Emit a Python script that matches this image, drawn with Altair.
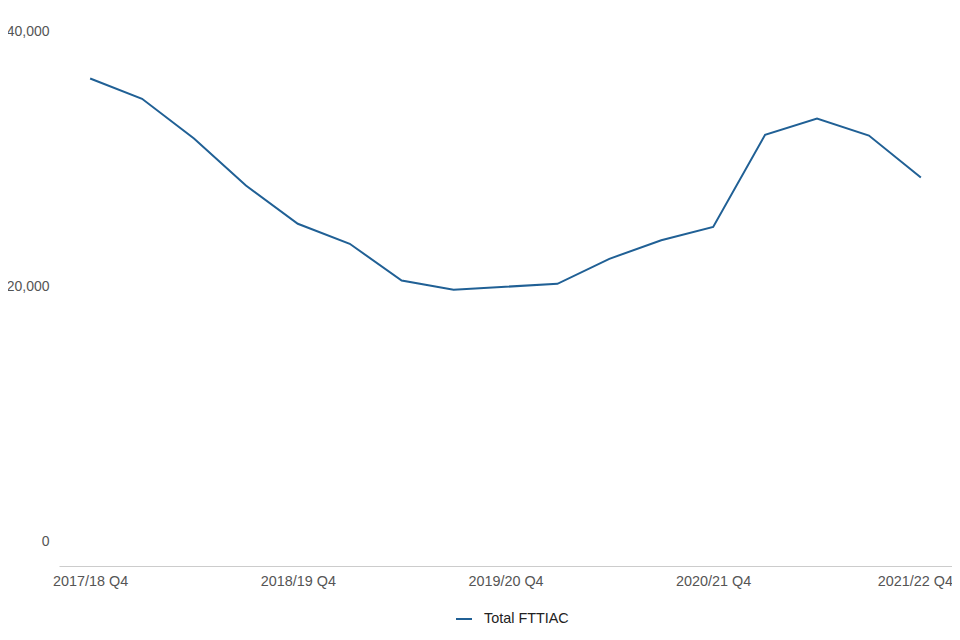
import altair as alt
import pandas as pd

quarters = [
    "2017/18 Q4", "2018/19 Q1", "2018/19 Q2", "2018/19 Q3", "2018/19 Q4",
    "2019/20 Q1", "2019/20 Q2", "2019/20 Q3", "2019/20 Q4",
    "2020/21 Q1", "2020/21 Q2", "2020/21 Q3", "2020/21 Q4",
    "2021/22 Q1", "2021/22 Q2", "2021/22 Q3", "2021/22 Q4",
]
values = [36275, 34680, 31570, 27880, 24880, 23310, 20430, 19700, 19940,
          20170, 22130, 23590, 24630, 31860, 33140, 31800, 28510]
series_name = "Total FTTIAC"
x_labels = ["2017/18 Q4", "2018/19 Q4", "2019/20 Q4", "2020/21 Q4", "2021/22 Q4"]
y_ticks = [0, 20000, 40000]

df = pd.DataFrame({"quarter": quarters, "value": values, "series": series_name})

FONT = "Liberation Sans"

chart = alt.Chart(df).mark_line(strokeWidth=2).encode(
    x=alt.X("quarter:N", sort=quarters,
            scale=alt.Scale(type="point", padding=0.6),
            axis=alt.Axis(values=x_labels, title=None, labelAngle=0,
                          domainColor="#cccccc", domainWidth=1, ticks=False,
                          grid=False, offset=25, labelPadding=8,
                          labelOffset={"condition": {"test": "datum.value == '2021/22 Q4'", "value": -6},
                                       "value": 0},
                          labelFont=FONT, labelFontSize=14.4, labelColor="#555555")),
    y=alt.Y("value:Q",
            scale=alt.Scale(domain=[0, 40000], nice=False, zero=True),
            axis=alt.Axis(values=y_ticks, format=",.0f", title=None, domain=False,
                          ticks=False, grid=False, labelPadding=10,
                          labelFont=FONT, labelFontSize=14, labelColor="#555555")),
    color=alt.Color("series:N",
                    scale=alt.Scale(domain=[series_name], range=["#206095"]),
                    legend=alt.Legend(title=None, orient="none", legendX=396, legendY=579,
                                      symbolType="stroke", symbolSize=256,
                                      symbolStrokeWidth=2, labelFont=FONT,
                                      labelFontSize=14.4, labelColor="#222222",
                                      labelOffset=11)),
).properties(
    width=893, height=510,
    autosize=alt.AutoSizeParams(type="none"),
    padding={"left": 51, "top": 23, "right": 0, "bottom": 90},
).configure_view(stroke=None)

chart.save("out.html", embed_options={"renderer": "svg", "actions": False})
